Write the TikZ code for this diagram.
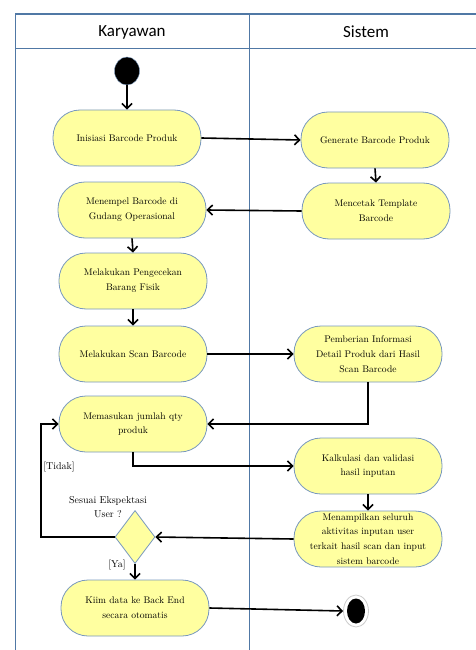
\documentclass[tikz,border=0pt]{standalone}
\usepackage{fontspec}
\newfontfamily\headfont{Carlito}
\usetikzlibrary{shapes.geometric,arrows.meta}
\definecolor{nodefill}{RGB}{255,255,160}
\definecolor{nodeborder}{RGB}{120,152,190}
\definecolor{lanecol}{RGB}{80,120,165}
\begin{document}
\begin{tikzpicture}[x=1pt,y=-1pt,
  act/.style={draw=nodeborder, fill=nodefill, rounded corners=27pt, minimum width=148pt, minimum height=56pt, align=center, font=\fontsize{9.6}{14.8}\selectfont, inner sep=0pt, line width=0.8pt},
  flow/.style={-{Straight Barb[length=5pt,width=10pt,line width=1.6pt]}, line width=1.6pt},
  lane/.style={draw=lanecol, line width=0.9pt},
  lbl/.style={font=\fontsize{10}{14}\selectfont, align=center, inner sep=0pt}
]
\useasboundingbox (0,0) rectangle (476,650);
% swimlanes
\draw[lane, line width=1.3pt] (15,14) -- (476,14);
\draw[lane] (15,48) -- (476,48);
\draw[lane] (15,14) -- (15,650);
\draw[lane] (249,14) -- (249,650);
\node[font=\headfont\fontsize{17}{20}\selectfont] (hk) at (132,32) {Karyawan};
\node[font=\headfont\fontsize{17}{20}\selectfont] (hs) at (366,32) {Sistem};
% nodes
\node[ellipse, fill=black, draw=nodeborder, minimum width=25pt, minimum height=28pt, inner sep=0pt] (start) at (127,71) {};
\node[act] (n1) at (127,138) {Inisiasi Barcode Produk};
\node[act] (n2) at (375,140) {Generate Barcode Produk};
\node[act] (n3) at (376,211) {Mencetak Template\\Barcode};
\node[act] (n4) at (132,210) {Menempel Barcode di\\Gudang Operasional};
\node[act] (n5) at (133,281) {Melakukan Pengecekan\\Barang Fisik};
\node[act] (n6) at (133,354) {Melakukan Scan Barcode};
\node[act] (n7) at (368,354) {Pemberian Informasi\\Detail Produk dari Hasil\\Scan Barcode};
\node[act] (n8) at (133,424) {Memasukan jumlah qty\\produk};
\node[act] (n9) at (368,466) {Kalkulasi dan validasi\\hasil inputan};
\node[act] (n10) at (368,539) {Menampilkan seluruh\\aktivitas inputan user\\terkait hasil scan dan input\\sistem barcode};
\node[diamond, draw=nodeborder, fill=nodefill, line width=0.8pt, minimum width=40pt, minimum height=53pt, inner sep=0pt] (d) at (135,537) {};
\node[act] (n11) at (135,608) {Kiim data ke Back End\\secara otomatis};
\node[ellipse, draw=gray!40, fill=white, minimum width=25pt, minimum height=32pt, inner sep=0pt, line width=0.8pt] (end) at (356,611) {};
\node[ellipse, fill=black, minimum width=18pt, minimum height=25pt, inner sep=0pt] (endin) at (356,611) {};
% labels
\node[lbl] (ltidak) at (59,467) {[Tidak]};
\node[lbl] (lq) at (108,507) {Sesuai Ekspektasi\\User ?};
\node[lbl] (lya) at (117,565) {[Ya]};
% connectors
\coordinate (lp) at (41,480);
\draw[flow] (start.south) -- (n1.north);
\draw[flow] (n1.east) -- (n2.west);
\draw[flow] (n2.south) -- (n3.north);
\draw[flow] (n3.west) -- (n4.east);
\draw[flow] (n4.south) -- (n5.north);
\draw[flow] (n5.south) -- (n6.north);
\draw[flow] (n6.east) -- (n7.west);
\draw[flow] (n7.south) |- (n8.east);
\draw[flow] (n8.south) |- (n9.west);
\draw[flow] (n9.south) -- (n10.north);
\draw[flow] (n10.west) -- (d.east);
\draw[flow] (d.west) -| (lp) |- (n8.west);
\draw[flow] (d.south) -- (n11.north);
\draw[flow] (n11.east) -- (end.west);
\end{tikzpicture}
\end{document}
